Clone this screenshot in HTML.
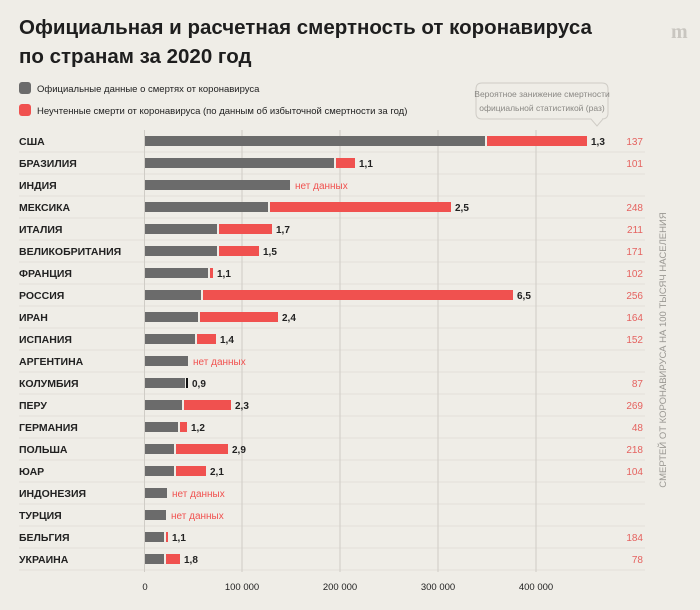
<!DOCTYPE html>
<html><head><meta charset="utf-8"><style>
body{margin:0;background:#efede7;}
svg{display:block;font-family:"Liberation Sans","DejaVu Sans",sans-serif;}
</style></head><body>
<svg width="700" height="610" viewBox="0 0 700 610" xmlns="http://www.w3.org/2000/svg">
<rect width="700" height="610" fill="#efede7"/>
<text x="19" y="34" font-size="20.5" font-weight="bold" fill="#1e1e1e">Официальная и расчетная смертность от коронавируса</text>
<text x="19" y="63" font-size="20.5" font-weight="bold" fill="#1e1e1e">по странам за 2020 год</text>
<text x="671" y="38" font-size="20" font-weight="bold" fill="#c9c6c0" font-family="Liberation Serif,serif">m</text>
<rect x="19" y="82" width="12" height="12" rx="3" fill="#6b6b6b"/>
<text x="37" y="92" font-size="9.5" fill="#222">Официальные данные о смертях от коронавируса</text>
<rect x="19" y="104" width="12" height="12" rx="3" fill="#f0514f"/>
<text x="37" y="114" font-size="9.5" fill="#222">Неучтенные смерти от коронавируса (по данным об избыточной смертности за год)</text>
<path d="M482 119 Q476 119 476 113 V89 Q476 83 482 83 H602 Q608 83 608 89 V113 Q608 119 602 119 H603 L597 126 L591 119 Z" fill="#efede7" stroke="#cfccc6" stroke-width="1"/>
<text x="542" y="97" font-size="8.5" fill="#8a8884" text-anchor="middle">Вероятное занижение смертности</text>
<text x="542" y="111" font-size="8.5" fill="#8a8884" text-anchor="middle">официальной статистикой (раз)</text>
<g stroke="#e3e0da" stroke-width="1">
<line x1="19" y1="152" x2="645" y2="152"/><line x1="19" y1="174" x2="645" y2="174"/><line x1="19" y1="196" x2="645" y2="196"/><line x1="19" y1="218" x2="645" y2="218"/><line x1="19" y1="240" x2="645" y2="240"/><line x1="19" y1="262" x2="645" y2="262"/><line x1="19" y1="284" x2="645" y2="284"/><line x1="19" y1="306" x2="645" y2="306"/><line x1="19" y1="328" x2="645" y2="328"/><line x1="19" y1="350" x2="645" y2="350"/><line x1="19" y1="372" x2="645" y2="372"/><line x1="19" y1="394" x2="645" y2="394"/><line x1="19" y1="416" x2="645" y2="416"/><line x1="19" y1="438" x2="645" y2="438"/><line x1="19" y1="460" x2="645" y2="460"/><line x1="19" y1="482" x2="645" y2="482"/><line x1="19" y1="504" x2="645" y2="504"/><line x1="19" y1="526" x2="645" y2="526"/><line x1="19" y1="548" x2="645" y2="548"/><line x1="19" y1="570" x2="645" y2="570"/>
</g>
<g stroke="#cfccc6" stroke-width="1">
<line x1="144.5" y1="130" x2="144.5" y2="572"/>
<line x1="242" y1="130" x2="242" y2="572"/>
<line x1="340" y1="130" x2="340" y2="572"/>
<line x1="438" y1="130" x2="438" y2="572"/>
<line x1="536" y1="130" x2="536" y2="572"/>
</g>
<g font-size="9.5" fill="#222" text-anchor="middle">
<text x="145" y="590">0</text><text x="242" y="590">100 000</text><text x="340" y="590">200 000</text><text x="438" y="590">300 000</text><text x="536" y="590">400 000</text>
</g>
<text transform="translate(666,350) rotate(-90)" font-size="9.5" fill="#9a9893" text-anchor="middle">СМЕРТЕЙ ОТ КОРОНАВИРУСА НА 100 ТЫСЯЧ НАСЕЛЕНИЯ</text>

<g font-size="10.5" font-weight="bold" fill="#222">
<text x="19" y="145">США</text><text x="19" y="167">БРАЗИЛИЯ</text><text x="19" y="189">ИНДИЯ</text><text x="19" y="211">МЕКСИКА</text><text x="19" y="233">ИТАЛИЯ</text><text x="19" y="255">ВЕЛИКОБРИТАНИЯ</text><text x="19" y="277">ФРАНЦИЯ</text><text x="19" y="299">РОССИЯ</text><text x="19" y="321">ИРАН</text><text x="19" y="343">ИСПАНИЯ</text><text x="19" y="365">АРГЕНТИНА</text><text x="19" y="387">КОЛУМБИЯ</text><text x="19" y="409">ПЕРУ</text><text x="19" y="431">ГЕРМАНИЯ</text><text x="19" y="453">ПОЛЬША</text><text x="19" y="475">ЮАР</text><text x="19" y="497">ИНДОНЕЗИЯ</text><text x="19" y="519">ТУРЦИЯ</text><text x="19" y="541">БЕЛЬГИЯ</text><text x="19" y="563">УКРАИНА</text>
</g>
<g fill="#6b6b6b">
<rect x="145" y="136" width="340" height="10"/><rect x="145" y="158" width="189" height="10"/><rect x="145" y="180" width="145" height="10"/><rect x="145" y="202" width="123" height="10"/><rect x="145" y="224" width="72" height="10"/><rect x="145" y="246" width="72" height="10"/><rect x="145" y="268" width="63" height="10"/><rect x="145" y="290" width="56" height="10"/><rect x="145" y="312" width="53" height="10"/><rect x="145" y="334" width="50" height="10"/><rect x="145" y="356" width="43" height="10"/><rect x="145" y="378" width="40" height="10"/><rect x="145" y="400" width="37" height="10"/><rect x="145" y="422" width="33" height="10"/><rect x="145" y="444" width="29" height="10"/><rect x="145" y="466" width="29" height="10"/><rect x="145" y="488" width="22" height="10"/><rect x="145" y="510" width="21" height="10"/><rect x="145" y="532" width="19" height="10"/><rect x="145" y="554" width="19" height="10"/>
</g>
<g fill="#f0514f">
<rect x="487" y="136" width="100" height="10"/><rect x="336" y="158" width="19" height="10"/><rect x="270" y="202" width="181" height="10"/><rect x="219" y="224" width="53" height="10"/><rect x="219" y="246" width="40" height="10"/><rect x="210" y="268" width="3" height="10"/><rect x="203" y="290" width="310" height="10"/><rect x="200" y="312" width="78" height="10"/><rect x="197" y="334" width="19" height="10"/><rect x="184" y="400" width="47" height="10"/><rect x="180" y="422" width="7" height="10"/><rect x="176" y="444" width="52" height="10"/><rect x="176" y="466" width="30" height="10"/><rect x="166" y="532" width="2" height="10"/><rect x="166" y="554" width="14" height="10"/>
</g>
<rect x="186" y="378" width="2" height="10" fill="#111"/>
<g font-size="10" font-weight="bold" fill="#222">
<text x="591" y="145">1,3</text><text x="359" y="167">1,1</text><text x="455" y="211">2,5</text><text x="276" y="233">1,7</text><text x="263" y="255">1,5</text><text x="217" y="277">1,1</text><text x="517" y="299">6,5</text><text x="282" y="321">2,4</text><text x="220" y="343">1,4</text><text x="192" y="387">0,9</text><text x="235" y="409">2,3</text><text x="191" y="431">1,2</text><text x="232" y="453">2,9</text><text x="210" y="475">2,1</text><text x="172" y="541">1,1</text><text x="184" y="563">1,8</text>
</g>
<g font-size="10" fill="#f0514f">
<text x="295" y="189">нет данных</text><text x="193" y="365">нет данных</text><text x="172" y="497">нет данных</text><text x="171" y="519">нет данных</text>
</g>
<g font-size="10" fill="#e5625f" text-anchor="end">
<text x="643" y="145">137</text><text x="643" y="167">101</text><text x="643" y="211">248</text><text x="643" y="233">211</text><text x="643" y="255">171</text><text x="643" y="277">102</text><text x="643" y="299">256</text><text x="643" y="321">164</text><text x="643" y="343">152</text><text x="643" y="387">87</text><text x="643" y="409">269</text><text x="643" y="431">48</text><text x="643" y="453">218</text><text x="643" y="475">104</text><text x="643" y="541">184</text><text x="643" y="563">78</text>
</g>
</svg>
</body></html>
